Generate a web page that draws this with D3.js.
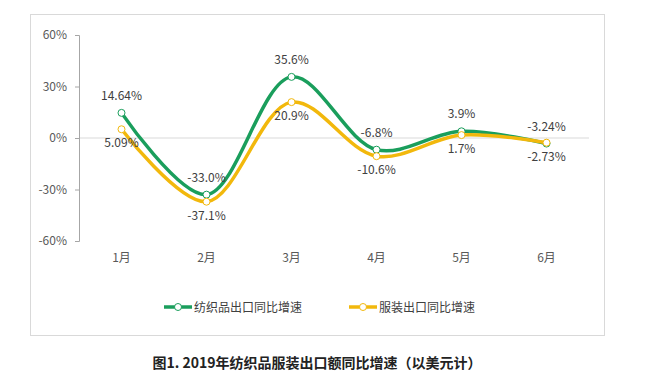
<!DOCTYPE html>
<html>
<head>
<meta charset="utf-8">
<script src="https://cdn.jsdelivr.net/npm/d3@7"></script>
<style>
  body { margin: 0; background: #fff; }
  svg { display: block; font-family: "Noto Sans CJK SC", "Microsoft YaHei", sans-serif; }
</style>
</head>
<body>
<svg id="chart" width="652" height="371"></svg>
<script>
// data
const months = ["1月", "2月", "3月", "4月", "5月", "6月"];
const textile = [14.64, -33.0, 35.6, -6.8, 3.9, -3.24];
const apparel = [5.09, -37.1, 20.9, -10.6, 1.7, -2.73];
const textileLabels = ["14.64%", "-33.0%", "35.6%", "-6.8%", "3.9%", "-3.24%"];
const apparelLabels = ["5.09%", "-37.1%", "20.9%", "-10.6%", "1.7%", "-2.73%"];
const yTicks = [-60, -30, 0, 30, 60];

const green = "#1a9e5c";
const yellow = "#f2b80c";

const svg = d3.select("#chart");

// outer frame
svg.append("rect")
  .attr("x", 30.5).attr("y", 14.5)
  .attr("width", 574).attr("height", 321)
  .attr("fill", "#fff")
  .attr("stroke", "#d9d9d9");

const x = d3.scalePoint().domain(months).range([79, 589]).padding(0.5);
const y = d3.scaleLinear().domain([-60, 60]).range([241, 35]);

// zero line
svg.append("line")
  .attr("x1", 79).attr("x2", 589)
  .attr("y1", y(0)).attr("y2", y(0))
  .attr("stroke", "#d9d9d9");

// y axis
const yAxis = svg.append("g")
  .attr("transform", "translate(79,0)")
  .call(d3.axisLeft(y).tickValues(yTicks).tickSize(4).tickPadding(8).tickFormat(d => d + "%"));
yAxis.select(".domain").attr("stroke", "#a6a6a6");
yAxis.selectAll(".tick line").attr("stroke", "#a6a6a6");
yAxis.selectAll(".tick text")
  .attr("fill", "#595959")
  .style("font-size", "12px")
  .style("font-family", "'Noto Sans CJK SC', sans-serif");

// x labels
svg.append("g").selectAll("text")
  .data(months)
  .join("text")
  .attr("x", d => x(d))
  .attr("y", 262)
  .attr("text-anchor", "middle")
  .attr("fill", "#595959")
  .style("font-size", "12px")
  .text(d => d);

const line = d3.line()
  .x((d, i) => x(months[i]))
  .y(d => y(d))
  .curve(d3.curveCatmullRom.alpha(0.5));

// textile first so apparel sits on top where they meet
const series = [
  { values: textile, color: green, labels: textileLabels, dy: -13 },
  { values: apparel, color: yellow, labels: apparelLabels, dy: 18 }
];

series.forEach(s => {
  svg.append("path")
    .datum(s.values)
    .attr("d", line)
    .attr("fill", "none")
    .attr("stroke", s.color)
    .attr("stroke-width", 3.5)
    .attr("stroke-linecap", "round");
  svg.append("g").selectAll("circle")
    .data(s.values)
    .join("circle")
    .attr("cx", (d, i) => x(months[i]))
    .attr("cy", d => y(d))
    .attr("r", 3.5)
    .attr("fill", "#fff")
    .attr("stroke", s.color)
    .attr("stroke-width", 1);
});

series.forEach(s => {
  svg.append("g").selectAll("text")
    .data(s.values)
    .join("text")
    .attr("x", (d, i) => x(months[i]))
    .attr("y", d => y(d) + s.dy)
    .attr("text-anchor", "middle")
    .attr("fill", "#404040")
    .style("font-size", "12px")
    .text((d, i) => s.labels[i]);
});

// legend
const legend = [
  { name: "纺织品出口同比增速", color: green, x: 164 },
  { name: "服装出口同比增速", color: yellow, x: 349 }
];
const lg = svg.append("g").selectAll("g")
  .data(legend)
  .join("g")
  .attr("transform", d => `translate(${d.x},307)`);
lg.append("line")
  .attr("x1", 0).attr("x2", 28)
  .attr("stroke", d => d.color)
  .attr("stroke-width", 3.5);
lg.append("circle")
  .attr("cx", 14).attr("r", 3.5)
  .attr("fill", "#fff")
  .attr("stroke", d => d.color);
lg.append("text")
  .attr("x", 30).attr("y", 4.5)
  .attr("fill", "#404040")
  .style("font-size", "12px")
  .text(d => d.name);

// caption
svg.append("text")
  .attr("x", 317).attr("y", 368)
  .attr("text-anchor", "middle")
  .attr("fill", "#222")
  .style("font-size", "14px")
  .style("font-weight", "bold")
  .text("图1. 2019年纺织品服装出口额同比增速（以美元计）");
</script>
</body>
</html>
